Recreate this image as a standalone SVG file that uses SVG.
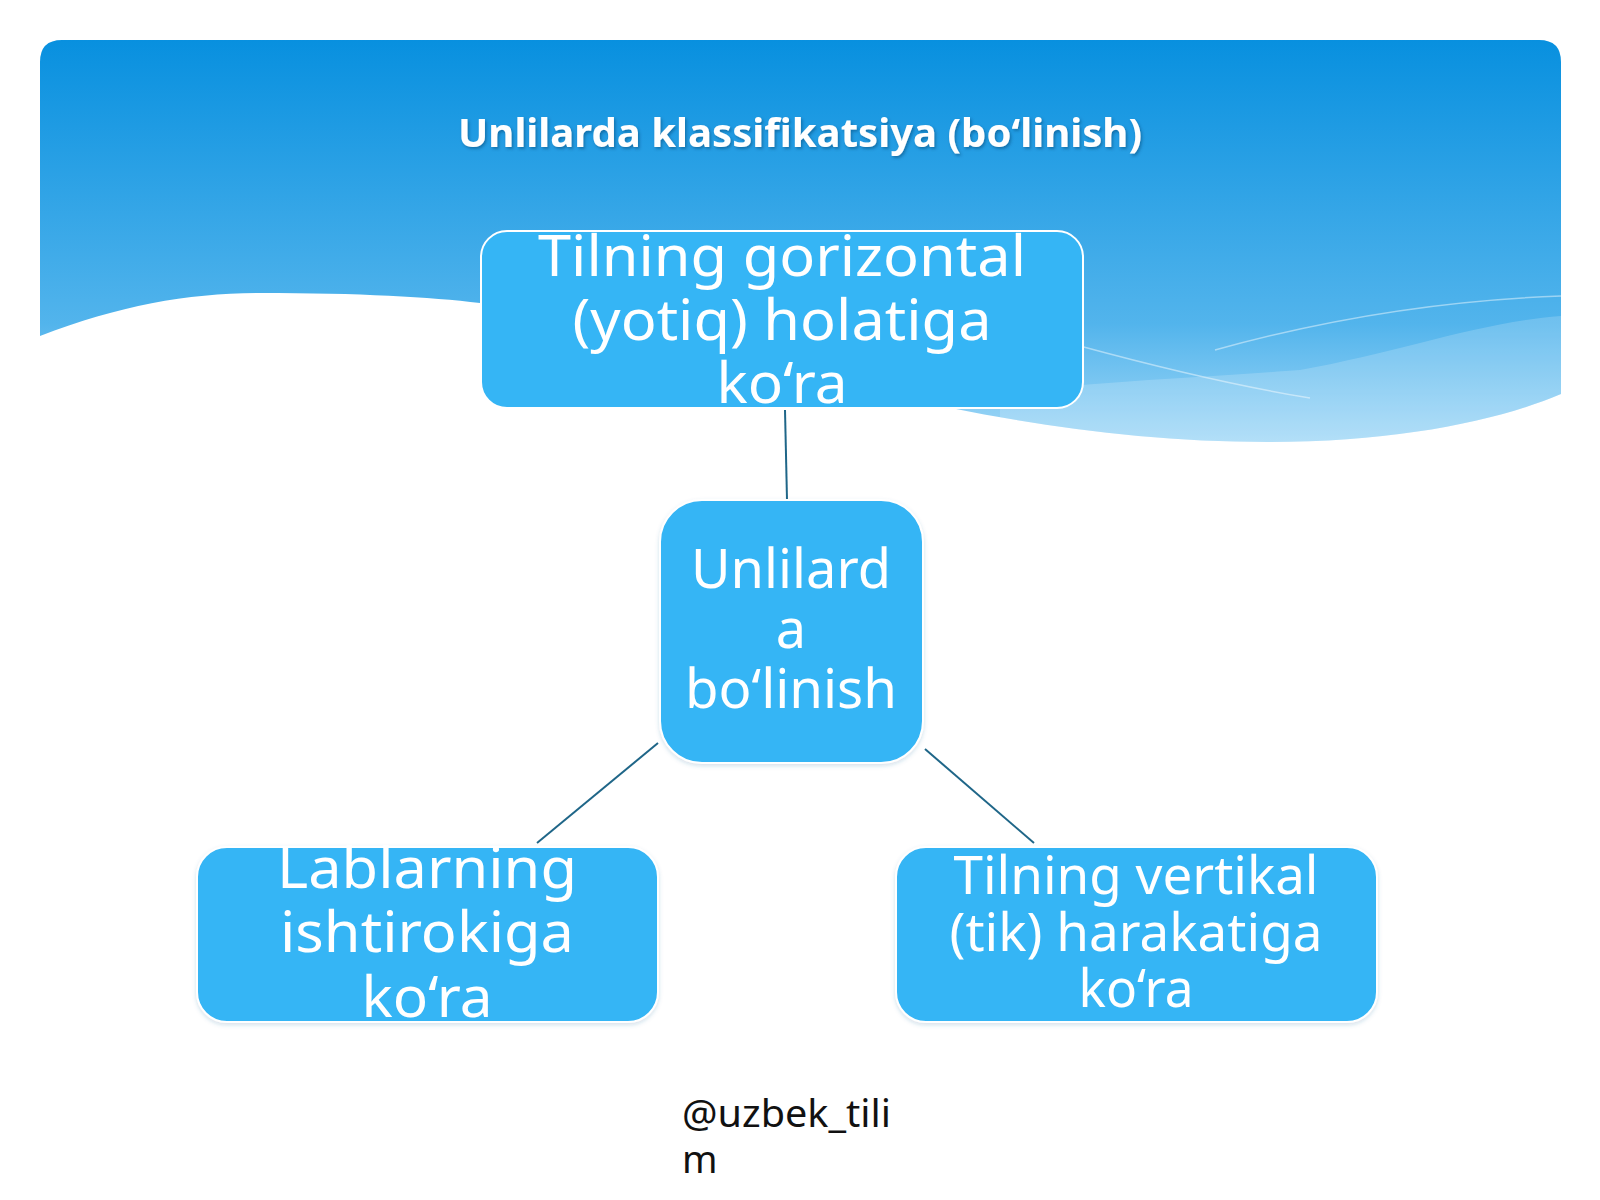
<svg xmlns="http://www.w3.org/2000/svg" width="1600" height="1200" viewBox="0 0 1600 1200">
<defs>
<linearGradient id="sky" x1="0" y1="40" x2="0" y2="445" gradientUnits="userSpaceOnUse">
<stop offset="0" stop-color="#0890df"/>
<stop offset="0.7" stop-color="#52b4ec"/>
<stop offset="1" stop-color="#a4d9f7"/>
</linearGradient>
<clipPath id="panelClip">
<path d="M40,62 Q40,40 62,40 L1539,40 Q1561,40 1561,62 L1561,394 C1500,420 1400,442 1268,442 C950,442 700,330 480,303 C430,297 360,293 260,293 C190,293 120,305 40,336 Z"/>
</clipPath>
<filter id="shadow" x="-5%" y="-30%" width="110%" height="160%">
<feDropShadow dx="1.5" dy="2" stdDeviation="1.5" flood-color="#003a66" flood-opacity="0.45"/>
</filter>
<filter id="boxShadow" x="-5%" y="-5%" width="110%" height="115%">
<feDropShadow dx="0" dy="2" stdDeviation="2" flood-color="#1a6a99" flood-opacity="0.2"/>
</filter>
</defs>
<style>
.node rect { fill: #35b5f5; stroke: #ffffff; stroke-width: 2; }
.node text { fill: #ffffff; font-family: "Noto Sans", "Open Sans", sans-serif; text-anchor: middle; }
.conn line { stroke: #1f6688; stroke-width: 2; }
.title { fill: #ffffff; font-family: "Noto Sans", "Open Sans", sans-serif; font-weight: bold; font-size: 40px; text-anchor: middle; }
.footer { fill: #111111; font-family: "Noto Sans", "Open Sans", sans-serif; font-size: 38px; }
.wline { fill: none; stroke: #ffffff; stroke-opacity: 0.45; stroke-width: 1.5; }
</style>
<rect x="0" y="0" width="1600" height="1200" fill="#ffffff"/>
<g id="background">
<path d="M40,62 Q40,40 62,40 L1539,40 Q1561,40 1561,62 L1561,394 C1500,420 1400,442 1268,442 C950,442 700,330 480,303 C430,297 360,293 260,293 C190,293 120,305 40,336 Z" fill="url(#sky)"/>
<g clip-path="url(#panelClip)">
<path d="M1000,392 C1100,382 1220,376 1300,370 C1400,352 1480,322 1561,316 L1561,460 L1000,460 Z" fill="#ffffff" fill-opacity="0.18"/>
<path d="M1080,346 C1150,365 1230,385 1310,398" class="wline"/>
<path d="M1215,350 C1330,318 1450,300 1561,296" class="wline"/>
</g>
</g>
<text class="title" x="800" y="147" textLength="684" lengthAdjust="spacingAndGlyphs" filter="url(#shadow)">Unlilarda klassifikatsiya (bo‘linish)</text>
<g id="connectors" class="conn">
<line x1="785" y1="410" x2="787" y2="500"/>
<line x1="658" y1="743" x2="537" y2="843"/>
<line x1="925" y1="749" x2="1034" y2="843"/>
</g>
<g id="node-top" class="node">
<rect x="481" y="231" width="602" height="177" rx="26"/>
<text font-size="57"><tspan x="782" y="276" textLength="488" lengthAdjust="spacingAndGlyphs">Tilning gorizontal</tspan><tspan x="782" y="340" textLength="419" lengthAdjust="spacingAndGlyphs">(yotiq) holatiga</tspan><tspan x="782" y="403" textLength="131" lengthAdjust="spacingAndGlyphs">ko‘ra</tspan></text>
</g>
<g id="node-center" class="node">
<rect x="660" y="500" width="263" height="263" rx="42" filter="url(#boxShadow)"/>
<text font-size="54"><tspan x="791" y="588" textLength="200" lengthAdjust="spacingAndGlyphs">Unlilard</tspan><tspan x="791" y="648">a</tspan><tspan x="791" y="708" textLength="212" lengthAdjust="spacingAndGlyphs">bo‘linish</tspan></text>
</g>
<g id="node-left" class="node">
<rect x="197" y="847" width="461" height="175" rx="30" filter="url(#boxShadow)"/>
<text font-size="56"><tspan x="427" y="888" textLength="300" lengthAdjust="spacingAndGlyphs">Lablarning</tspan><tspan x="427" y="952" textLength="294" lengthAdjust="spacingAndGlyphs">ishtirokiga</tspan><tspan x="427" y="1017" textLength="131" lengthAdjust="spacingAndGlyphs">ko‘ra</tspan></text>
</g>
<g id="node-right" class="node">
<rect x="896" y="847" width="481" height="175" rx="30" filter="url(#boxShadow)"/>
<text font-size="52"><tspan x="1136" y="894" textLength="365" lengthAdjust="spacingAndGlyphs">Tilning vertikal</tspan><tspan x="1136" y="951" textLength="373" lengthAdjust="spacingAndGlyphs">(tik) harakatiga</tspan><tspan x="1136" y="1007" textLength="115" lengthAdjust="spacingAndGlyphs">ko‘ra</tspan></text>
</g>
<g id="footer">
<text class="footer"><tspan x="682" y="1127" textLength="209" lengthAdjust="spacingAndGlyphs">@uzbek_tili</tspan><tspan x="682" y="1173">m</tspan></text>
</g>
</svg>
